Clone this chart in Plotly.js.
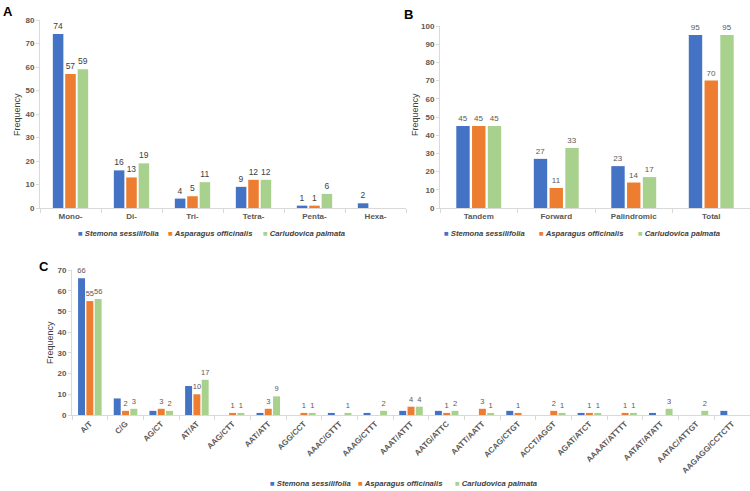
<!DOCTYPE html>
<html>
<head>
<meta charset="utf-8">
<script src="https://cdn.plot.ly/plotly-3.0.1.min.js"></script>
<style>html,body{margin:0;padding:0;background:#fff;}#chart{width:750px;height:491px;}</style>
</head>
<body>
<div id="chart"></div>
<script>
// ---------- DATA ----------
const seriesNames = ['Stemona sessilifolia', 'Asparagus officinalis', 'Carludovica palmata'];

const catsA = ['Mono-', 'Di-', 'Tri-', 'Tetra-', 'Penta-', 'Hexa-'];
const stemonaA = [74, 16, 4, 9, 1, 2];
const asparagusA = [57, 13, 5, 12, 1, 0];
const carludovicaA = [59, 19, 11, 12, 6, 0];

const catsB = ['Tandem', 'Forward', 'Palindromic', 'Total'];
const stemonaB = [45, 27, 23, 95];
const asparagusB = [45, 11, 14, 70];
const carludovicaB = [45, 33, 17, 95];

const catsC = ['A/T', 'C/G', 'AG/CT', 'AT/AT', 'AAG/CTT', 'AAT/ATT', 'AGG/CCT', 'AAAC/GTTT',
  'AAAG/CTTT', 'AAAT/ATTT', 'AATG/ATTC', 'AATT/AATT', 'ACAG/CTGT', 'ACCT/AGGT', 'AGAT/ATCT',
  'AAAAT/ATTTT', 'AATAT/ATATT', 'AATAC/ATTGT', 'AAGAGG/CCTCTT'];
const stemonaC = [66, 8, 2, 14, 0, 1, 0, 1, 1, 2, 2, 0, 2, 0, 1, 0, 1, 0, 2];
const asparagusC = [55, 2, 3, 10, 1, 3, 1, 0, 0, 4, 1, 3, 1, 2, 1, 1, 0, 0, 0];
const carludovicaC = [56, 3, 2, 17, 1, 9, 1, 1, 2, 4, 2, 1, 0, 1, 1, 1, 3, 2, 0];
// Only the first Stemona value in panel C carries a printed label in the source
const stemonaCLabelled = ['A/T'];

// ---------- STYLE ----------
const colors = ['#4472C4', '#ED7D31', '#A9D18E'];
const W = 750, H = 491;
const px = x => x / W;
const py = y => 1 - y / H;

const lbl = (arr) => arr.map(v => v > 0 ? String(v) : '');

// per-panel bar geometry (category units)
const geomC = {width: 0.195, offsets: [-0.33, -0.0975, 0.135]};

function mk(x, y, i, xa, ya, text, tfont, geom) {
  const t = {
    type: 'bar', x: x, y: y, name: seriesNames[i],
    xaxis: xa, yaxis: ya, showlegend: false,
    marker: {color: colors[i], line: {width: 0}},
    text: text, textposition: 'outside', cliponaxis: false,
    constraintext: 'none',
    textfont: tfont,
    hoverinfo: 'x+y'
  };
  if (geom) { t.width = geom.width; t.offset = geom.offsets[i]; }
  return t;
}

const fontA = {family: 'Liberation Sans, Arial, sans-serif', size: 8.5, color: '#404040'};
const fontB = {family: 'Liberation Sans Narrow, Liberation Sans, Arial, sans-serif', size: 8, color: '#595959'};
const fontC = {family: 'Liberation Sans Narrow, Liberation Sans, Arial, sans-serif', size: 7.5, color: '#595959'};

const stemCText = stemonaC.map((v, i) => stemonaCLabelled.includes(catsC[i]) ? String(v) : '');

const data = [
  mk(catsA, stemonaA, 0, 'x', 'y', lbl(stemonaA), fontA),
  mk(catsA, asparagusA, 1, 'x', 'y', lbl(asparagusA), fontA),
  mk(catsA, carludovicaA, 2, 'x', 'y', lbl(carludovicaA), fontA),
  mk(catsB, stemonaB, 0, 'x2', 'y2', lbl(stemonaB), fontB),
  mk(catsB, asparagusB, 1, 'x2', 'y2', lbl(asparagusB), fontB),
  mk(catsB, carludovicaB, 2, 'x2', 'y2', lbl(carludovicaB), fontB),
  mk(catsC, stemonaC, 0, 'x3', 'y3', stemCText, fontC, geomC),
  mk(catsC, asparagusC, 1, 'x3', 'y3', lbl(asparagusC), fontC, geomC),
  mk(catsC, carludovicaC, 2, 'x3', 'y3', lbl(carludovicaC), fontC, geomC)
];

const tickFont = {family: 'Liberation Sans, Arial, sans-serif', size: 8, color: '#595959', weight: 'bold'};
const axisLine = '#D9D9D9';

function xax(domain, anchor, extra) {
  return Object.assign({
    domain: domain, anchor: anchor, type: 'category',
    showline: true, linecolor: axisLine, linewidth: 1,
    ticks: 'outside', tickson: 'boundaries', ticklen: 4, tickcolor: axisLine,
    showgrid: false, zeroline: false, tickfont: tickFont, fixedrange: true
  }, extra || {});
}
function yax(domain, anchor, range) {
  return {
    domain: domain, anchor: anchor, range: range, dtick: 10,
    showline: true, linecolor: axisLine, linewidth: 1,
    ticks: 'outside', ticklen: 3, tickcolor: axisLine,
    showgrid: false, zeroline: false, tickfont: tickFont, fixedrange: true
  };
}

const legFont = {family: 'Liberation Sans, Arial, sans-serif', size: 7.7, color: '#404040'};
const titleFont = {family: 'Liberation Sans, Arial, sans-serif', size: 9, color: '#404040'};
const panelFont = {family: 'Liberation Sans, Arial, sans-serif', size: 13, color: '#000000', weight: 'bold'};

function ann(text, x, y, font, angle, xanchor) {
  return {text: text, x: px(x), y: py(y), xref: 'paper', yref: 'paper',
    xanchor: xanchor || 'center', yanchor: 'middle', showarrow: false, font: font, textangle: angle || 0};
}

// legend rows drawn as text keys (square marker + italic series name)
function legendRow(xs, y) {
  return seriesNames.map((n, i) => ann(
    '<span style="color:' + colors[i] + '">\u25A0</span> <b><i>' + n + '</i></b>',
    xs[i], y, legFont, 0, 'left'));
}

const layout = {
  width: W, height: H,
  margin: {l: 0, r: 0, t: 0, b: 0},
  paper_bgcolor: '#ffffff', plot_bgcolor: '#ffffff',
  barmode: 'group', bargap: 0.39, bargroupgap: 0.15,
  showlegend: false,
  xaxis: xax([px(40), px(406)], 'y'),
  yaxis: yax([py(208), py(20)], 'x', [0, 80]),
  xaxis2: xax([px(440), px(750)], 'y2'),
  yaxis2: yax([py(208), py(26)], 'x2', [0, 100]),
  xaxis3: xax([px(72), px(750)], 'y3', {tickangle: -45, tickfont: {family: 'Liberation Sans, Arial, sans-serif', size: 8, color: '#595959', weight: 'bold'}}),
  yaxis3: yax([py(415), py(270)], 'x3', [0, 70]),
  annotations: [
    ann('Frequency', 17, 115, titleFont, -90),
    ann('Frequency', 415, 115, titleFont, -90),
    ann('Frequency', 50, 343, titleFont, -90),
    ann('A', 8, 11, panelFont),
    ann('B', 408, 14, panelFont),
    ann('C', 44, 266, panelFont)
  ].concat(legendRow([76, 166, 261], 233))
   .concat(legendRow([442, 537, 636], 233))
   .concat(legendRow([268, 356, 453], 483))
};

Plotly.newPlot('chart', data, layout, {displayModeBar: false, staticPlot: true});
</script>
</body>
</html>
